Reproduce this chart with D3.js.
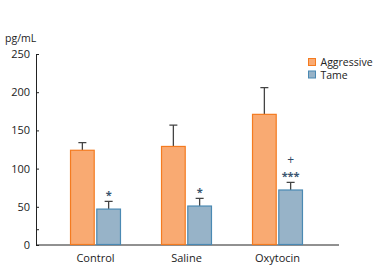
<!DOCTYPE html>
<html>
<head>
<meta charset="utf-8">
<script src="https://cdn.jsdelivr.net/npm/d3@7"></script>
<style>
  body { margin: 0; background: #fff; }
  text { font-family: "Open Sans", "Noto Sans", sans-serif; fill: #222; }
</style>
</head>
<body>
<div id="wrapper"></div>
<script>
// data
const groups = ["Control", "Saline", "Oxytocin"]
const series = ["Aggressive", "Tame"]
const aggressive = [124, 129, 171]
const aggressiveErr = [10, 28, 35]
const tame = [47, 51, 72]
const tameErr = [10, 10, 10]
const marks = [["*"], ["*"], ["***", "+"]]
const yTicks = [0, 50, 100, 150, 200, 250]
const minorTicks = [20]

const width = 391
const height = 276
const margin = { top: 54, right: 52, bottom: 31, left: 36 }
const boundedWidth = width - margin.left - margin.right
const boundedHeight = height - margin.top - margin.bottom

const svg = d3.select("#wrapper").append("svg")
    .attr("width", width)
    .attr("height", height)

const bounds = svg.append("g")
    .attr("transform", `translate(${margin.left}, ${margin.top})`)

// scales
const x = d3.scaleBand()
    .domain(groups)
    .range([14, 287])
    .paddingInner(0.44)
    .paddingOuter(0.22)

const xSub = d3.scaleBand()
    .domain(series)
    .range([0, x.bandwidth()])
    .paddingInner(0.06)

const y = d3.scaleLinear()
    .domain([0, 250])
    .range([boundedHeight, 0])

const fills = { Aggressive: "#f9aa72", Tame: "#97b3c8" }
const strokes = { Aggressive: "#f47b20", Tame: "#4a89b3" }

// axes
const yAxis = d3.axisLeft(y).tickValues(yTicks).tickSize(-3).tickPadding(6)
const yAxisGroup = bounds.append("g").call(yAxis)
yAxisGroup.select(".domain").attr("stroke", "#222")
yAxisGroup.selectAll(".tick line").attr("stroke", "#222")
yAxisGroup.selectAll("text").style("font-size", "11px").attr("fill", "#222")

bounds.selectAll(".minor-tick").data(minorTicks).join("line")
    .attr("x1", 0).attr("x2", 3)
    .attr("y1", d => y(d)).attr("y2", d => y(d))
    .attr("stroke", "#222")

bounds.append("line")
    .attr("x1", 0).attr("x2", 303)
    .attr("y1", y(0)).attr("y2", y(0))
    .attr("stroke", "#222")

bounds.selectAll(".x-label").data(groups).join("text")
    .attr("x", d => x(d) + x.bandwidth() / 2)
    .attr("y", boundedHeight + 17)
    .attr("text-anchor", "middle")
    .style("font-size", "11px")
    .text(d => d)

svg.append("text")
    .attr("x", 5).attr("y", 42)
    .style("font-size", "10.5px")
    .text("pg/mL")

// bars
const rows = groups.map((g, i) => [
  { group: g, key: "Aggressive", value: aggressive[i], err: aggressiveErr[i], marks: [] },
  { group: g, key: "Tame", value: tame[i], err: tameErr[i], marks: marks[i] },
])

const groupG = bounds.selectAll(".group").data(rows).join("g")
    .attr("transform", d => `translate(${x(d[0].group)}, 0)`)

groupG.selectAll(".err").data(d => d).join("path")
    .attr("d", d => {
      const cx = xSub(d.key) + xSub.bandwidth() / 2
      const top = y(d.value + d.err)
      return `M${cx},${y(d.value)}V${top}M${cx - 4},${top}H${cx + 4}`
    })
    .attr("stroke", "#444")
    .attr("stroke-width", 1.3)
    .attr("fill", "none")

groupG.selectAll("rect").data(d => d).join("rect")
    .attr("x", d => xSub(d.key) + 0.5)
    .attr("y", d => y(d.value))
    .attr("width", xSub.bandwidth() - 1)
    .attr("height", d => y(0) - y(d.value) - 0.5)
    .attr("fill", d => fills[d.key])
    .attr("stroke", d => strokes[d.key])
    .attr("stroke-width", 1.2)

groupG.each(function(d) {
  const t = d[1]
  const cx = xSub(t.key) + xSub.bandwidth() / 2
  const top = y(t.value + t.err)
  t.marks.forEach(m => {
    const plus = m === "+"
    d3.select(this).append("text")
      .attr("x", cx)
      .attr("y", plus ? top - 18 : top - 2)
      .attr("text-anchor", "middle")
      .style("font-size", plus ? "12px" : "11px")
      .style("font-weight", plus ? "normal" : "bold")
      .style("fill", plus ? "#2c4a66" : "#3a5570")
      .text(m)
  })
})

// legend
const legend = svg.append("g").attr("transform", "translate(308, 58)")
series.forEach((s, i) => {
  legend.append("rect")
    .attr("x", 0.5).attr("y", i * 12.5 + 0.5)
    .attr("width", 7).attr("height", 7)
    .attr("fill", fills[s])
    .attr("stroke", strokes[s])
  legend.append("text")
    .attr("x", 12.5).attr("y", i * 12.5 + 8)
    .style("font-size", "10.5px")
    .text(s)
})
</script>
</body>
</html>
